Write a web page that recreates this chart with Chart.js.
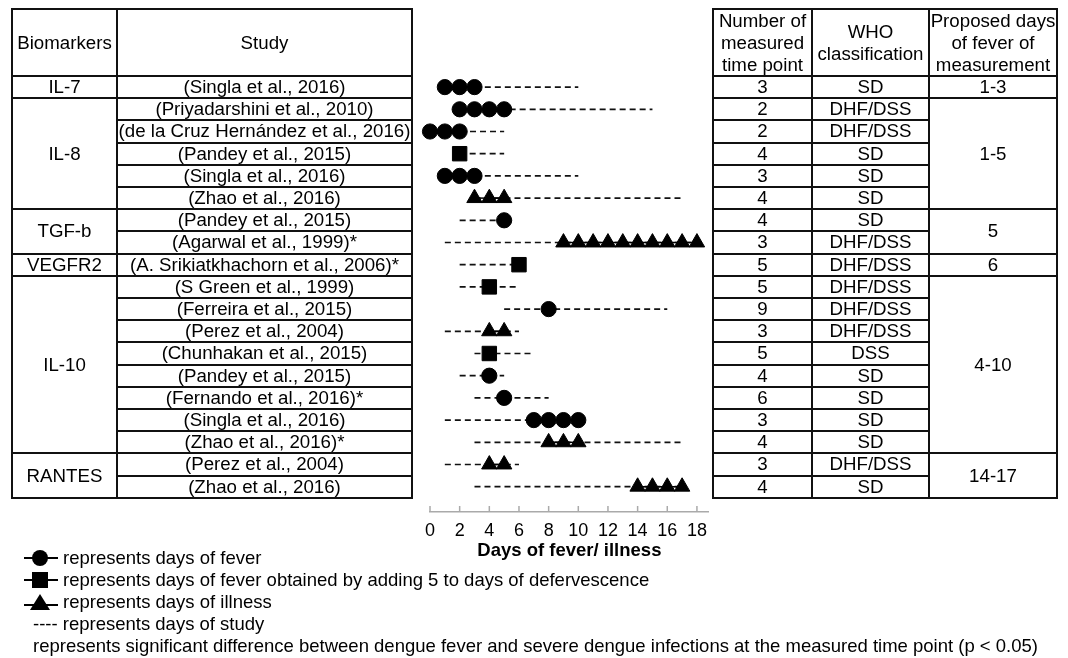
<!DOCTYPE html>
<html>
<head>
<meta charset="utf-8">
<script src="https://cdn.jsdelivr.net/npm/chart.js@4.4.0/dist/chart.umd.min.js"></script>
<style>
  html, body { margin: 0; padding: 0; background: #fff; }
  body { width: 1068px; height: 658px; position: relative; overflow: hidden;
         font-family: "Liberation Sans", Arial, sans-serif; color: #000; }
  #chart { position: absolute; left: 0; top: 0; }
  .cell { position: absolute; box-sizing: border-box; border: 2px solid #111;
          display: flex; align-items: center; justify-content: center; text-align: center;
          font-size: 18.7px; line-height: 22px; white-space: nowrap; }
  .leg { position: absolute; font-size: 18.5px; line-height: 22px; white-space: nowrap; }
  svg.sym { position: absolute; }
</style>
</head>
<body>
<canvas id="chart" width="1068" height="658"></canvas>
<div id="tables"></div>
<div id="legend">
  <svg class="sym" style="left:23px;top:549px" width="36" height="18">
    <line x1="1" y1="9" x2="35" y2="9" stroke="#000" stroke-width="2"/>
    <circle cx="17" cy="9" r="8" fill="#000"/>
  </svg>
  <div class="leg" style="left:63px;top:547px">represents days of fever</div>
  <svg class="sym" style="left:23px;top:571px" width="36" height="18">
    <line x1="1" y1="9" x2="35" y2="9" stroke="#000" stroke-width="2"/>
    <rect x="9" y="1" width="16" height="16" fill="#000"/>
  </svg>
  <div class="leg" style="left:63px;top:569px">represents days of fever obtained by adding 5 to days of defervescence</div>
  <svg class="sym" style="left:23px;top:593px" width="36" height="18">
    <line x1="1" y1="12" x2="35" y2="12" stroke="#000" stroke-width="2"/>
    <polygon points="17,1 27,17 7,17" fill="#000"/>
  </svg>
  <div class="leg" style="left:63px;top:591px">represents days of illness</div>
  <div class="leg" style="left:33px;top:613px">---- represents days of study</div>
  <div class="leg" style="left:33px;top:635px">represents significant difference between dengue fever and severe dengue infections at the measured time point (p &lt; 0.05)</div>
</div>
<script>
// ---- data ----
const biomarkers = ['IL-7', 'IL-8', 'TGF-b', 'VEGFR2', 'IL-10', 'RANTES'];
const biomarkerRows = [1, 5, 2, 1, 8, 2];
const proposedDays = ['1-3', '1-5', '5', '6', '4-10', '14-17'];

const studies = [
  '(Singla et al., 2016)',
  '(Priyadarshini et al., 2010)',
  '(de la Cruz Hernández et al., 2016)',
  '(Pandey et al., 2015)',
  '(Singla et al., 2016)',
  '(Zhao et al., 2016)',
  '(Pandey et al., 2015)',
  '(Agarwal et al., 1999)*',
  '(A. Srikiatkhachorn et al., 2006)*',
  '(S Green et al., 1999)',
  '(Ferreira et al., 2015)',
  '(Perez et al., 2004)',
  '(Chunhakan et al., 2015)',
  '(Pandey et al., 2015)',
  '(Fernando et al., 2016)*',
  '(Singla et al., 2016)',
  '(Zhao et al., 2016)*',
  '(Perez et al., 2004)',
  '(Zhao et al., 2016)'
];
const timePoints = ['3', '2', '2', '4', '3', '4', '4', '3', '5', '5', '9', '3', '5', '4', '6', '3', '4', '3', '4'];
const whoClass = ['SD', 'DHF/DSS', 'DHF/DSS', 'SD', 'SD', 'SD', 'SD', 'DHF/DSS', 'DHF/DSS', 'DHF/DSS',
                  'DHF/DSS', 'DHF/DSS', 'DSS', 'SD', 'SD', 'SD', 'SD', 'DHF/DSS', 'SD'];

// days of study (dashed line) per row
const studyStart = [1, 2, 0, 2, 1, 3, 2, 1, 2, 2, 5, 1, 3, 2, 3, 1, 3, 1, 3];
const studyEnd   = [10, 15, 5, 5, 10, 17, 5, 18, 6, 6, 16, 6, 7, 5, 8, 10, 17, 6, 17];

// measured days per row and the marker used
const markerType = ['circle', 'circle', 'circle', 'rect', 'circle', 'triangle', 'circle', 'triangle', 'rect', 'rect',
                    'circle', 'triangle', 'rect', 'circle', 'circle', 'circle', 'triangle', 'triangle', 'triangle'];
const markerDays = [
  [1, 2, 3], [2, 3, 4, 5], [0, 1, 2], [2], [1, 2, 3], [3, 4, 5],
  [5], [9, 10, 11, 12, 13, 14, 15, 16, 17, 18],
  [6],
  [4], [8], [4, 5], [4], [4], [5], [7, 8, 9, 10], [8, 9, 10],
  [4, 5], [14, 15, 16, 17]
];
const xTicks = [0, 2, 4, 6, 8, 10, 12, 14, 16, 18];

// ---- tables ----
const ROW_TOP = 76, ROW_H = 22.2, HEAD_TOP = 9;
const leftCols = [12, 117, 412];
const rightCols = [713, 812, 929, 1057];
const tables = document.getElementById('tables');

function cell(x0, x1, y0, y1, html) {
  const d = document.createElement('div');
  d.className = 'cell';
  d.style.left = (x0 - 1) + 'px';
  d.style.top = (y0 - 1) + 'px';
  d.style.width = (x1 - x0 + 2) + 'px';
  d.style.height = (y1 - y0 + 2) + 'px';
  d.innerHTML = html;
  tables.appendChild(d);
}
const rowY = i => ROW_TOP + ROW_H * i;

cell(leftCols[0], leftCols[1], HEAD_TOP, ROW_TOP, 'Biomarkers');
cell(leftCols[1], leftCols[2], HEAD_TOP, ROW_TOP, 'Study');
cell(rightCols[0], rightCols[1], HEAD_TOP, ROW_TOP, 'Number of<br>measured<br>time point');
cell(rightCols[1], rightCols[2], HEAD_TOP, ROW_TOP, 'WHO<br>classification');
cell(rightCols[2], rightCols[3], HEAD_TOP, ROW_TOP, 'Proposed days<br>of fever of<br>measurement');

let r = 0;
biomarkers.forEach((b, k) => {
  cell(leftCols[0], leftCols[1], rowY(r), rowY(r + biomarkerRows[k]), b);
  cell(rightCols[2], rightCols[3], rowY(r), rowY(r + biomarkerRows[k]), proposedDays[k]);
  r += biomarkerRows[k];
});
studies.forEach((s, i) => {
  cell(leftCols[1], leftCols[2], rowY(i), rowY(i + 1), s);
  cell(rightCols[0], rightCols[1], rowY(i), rowY(i + 1), timePoints[i]);
  cell(rightCols[1], rightCols[2], rowY(i), rowY(i + 1), whoClass[i]);
});

// ---- chart ----
const markerRadius = { circle: 7.6, rect: 10.2, triangle: 8.9 };
const datasets = [];

markerDays.forEach((days, i) => {
  datasets.push({
    label: 'measured ' + i,
    data: days.map(d => ({ x: d, y: i })),
    showLine: true,
    borderColor: '#000',
    borderWidth: 1.5,
    pointStyle: markerType[i],
    pointRadius: markerRadius[markerType[i]],
    pointBackgroundColor: '#000',
    pointBorderColor: '#000',
    pointBorderWidth: 1,
    clip: false,
    order: 1
  });
});
studyStart.forEach((s, i) => {
  datasets.push({
    label: 'study ' + i,
    data: [{ x: s, y: i }, { x: studyEnd[i], y: i }],
    showLine: true,
    borderColor: '#111',
    borderWidth: 1.7,
    borderDash: [6, 4],
    pointRadius: 0,
    clip: false,
    order: 2
  });
});

// short tick marks pointing up from the axis line
const upTicks = {
  id: 'upTicks',
  afterDraw(chart) {
    const sx = chart.scales.x;
    const ctx = chart.ctx;
    const y = chart.chartArea.bottom;
    ctx.save();
    ctx.strokeStyle = '#aaa';
    ctx.lineWidth = 1.5;
    xTicks.forEach(v => {
      const px = sx.getPixelForValue(v);
      ctx.beginPath();
      ctx.moveTo(px, y);
      ctx.lineTo(px, y - 6);
      ctx.stroke();
    });
    ctx.restore();
  }
};

new Chart(document.getElementById('chart').getContext('2d'), {
  type: 'scatter',
  data: { datasets: datasets },
  options: {
    responsive: false,
    animation: false,
    layout: { padding: { left: 430, right: 359.2, top: 76, bottom: 96 } },
    plugins: { legend: { display: false }, tooltip: { enabled: false } },
    scales: {
      x: {
        type: 'linear',
        min: 0,
        max: 18.8,
        afterFit: scale => { scale.height = 50; },
        afterBuildTicks: scale => { scale.ticks = xTicks.map(v => ({ value: v })); },
        grid: { display: false, drawTicks: false },
        border: { display: true, color: '#aaa', width: 1.5 },
        ticks: {
          includeBounds: false,
          padding: 8,
          color: '#000',
          font: { family: '"Liberation Sans", Arial, sans-serif', size: 18 }
        },
        title: {
          display: true,
          text: 'Days of fever/ illness',
          color: '#000',
          padding: { top: 0, bottom: 0 },
          font: { family: '"Liberation Sans", Arial, sans-serif', size: 18.5, weight: 'bold' }
        }
      },
      y: {
        type: 'linear',
        display: false,
        reverse: true,
        min: -0.5,
        max: 19.14
      }
    }
  },
  plugins: [upTicks]
});
</script>
</body>
</html>
